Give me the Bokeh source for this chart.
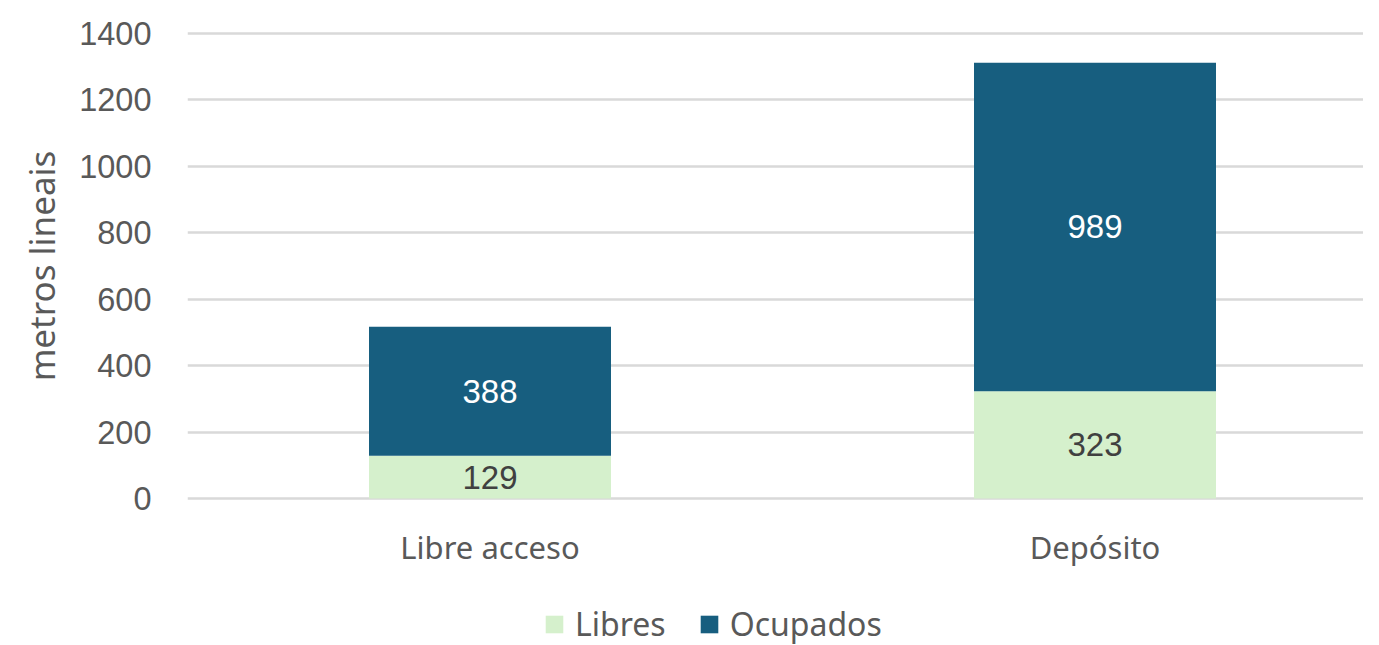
from bokeh.plotting import figure
from bokeh.models import ColumnDataSource, Range1d, FixedTicker, Legend, LegendItem, LabelSet
from bokeh.layouts import column
from bokeh.core.properties import value
from bokeh.embed import file_html
from bokeh.resources import INLINE

categories = ["Libre acceso", "Depósito"]
libres = [129, 323]
ocupados = [388, 989]
series = ["Libres", "Ocupados"]
colors = ["#D5F0CC", "#175E7F"]
y_ticks = [0, 200, 400, 600, 800, 1000, 1200, 1400]

xpos = [i + 0.5 for i in range(len(categories))]
src = ColumnDataSource(dict(
    x=xpos,
    Libres=libres,
    Ocupados=ocupados,
    lib_mid=[v / 2 for v in libres],
    ocu_mid=[a + b / 2 for a, b in zip(libres, ocupados)],
    lib_txt=[str(v) for v in libres],
    ocu_txt=[str(v) for v in ocupados],
))

p = figure(width=1363, height=600, output_backend="svg", toolbar_location=None,
           x_range=Range1d(0, 1176 / 605), y_range=Range1d(-30.1, 1430.1),
           min_border_left=187, min_border_right=0, min_border_top=23,
           min_border_bottom=92)
p.outline_line_color = None
p.background_fill_color = "white"

r = p.vbar_stack(series, x="x", width=0.4, source=src, color=colors, line_color=None)

lbl1 = LabelSet(x="x", y="lib_mid", text="lib_txt", source=src, text_align="center",
                text_baseline="middle", text_font=value("Liberation Sans"), text_font_size="33px",
                text_color="#404040")
lbl2 = LabelSet(x="x", y="ocu_mid", text="ocu_txt", source=src, text_align="center",
                text_baseline="middle", text_font=value("Liberation Sans"), text_font_size="33px",
                text_color="white")
p.add_layout(lbl1)
p.add_layout(lbl2)

p.xgrid.grid_line_color = None
p.ygrid.grid_line_color = "#D9D9D9"
p.ygrid.grid_line_width = 2.5
p.ygrid.ticker = FixedTicker(ticks=y_ticks)

p.yaxis.ticker = FixedTicker(ticks=y_ticks)
p.yaxis.axis_line_color = None
p.yaxis.major_tick_line_color = None
p.yaxis.minor_tick_line_color = None
p.yaxis.major_label_text_font = "Liberation Sans"
p.yaxis.major_label_text_font_size = "32.5px"
p.yaxis.major_label_text_color = "#595959"
p.yaxis.major_label_standoff = 30
p.yaxis.axis_label = "metros lineais"
p.yaxis.axis_label_text_font = "Noto Sans"
p.yaxis.axis_label_text_font_style = "normal"
p.yaxis.axis_label_text_font_size = "35px"
p.yaxis.axis_label_text_color = "#595959"
p.yaxis.axis_label_standoff = 11

p.xaxis.ticker = FixedTicker(ticks=xpos)
p.xaxis.major_label_overrides = {x: c for x, c in zip(xpos, categories)}
p.xaxis.axis_line_color = None
p.xaxis.major_tick_line_color = None
p.xaxis.minor_tick_line_color = None
p.xaxis.major_label_text_font = "Noto Sans"
p.xaxis.major_label_text_font_size = "31px"
p.xaxis.major_label_text_color = "#595959"
p.xaxis.major_label_standoff = 11

# legend strip below the chart (same stacked series, kept out of view)
pl = figure(width=1363, height=45, output_backend="svg", toolbar_location=None,
            x_range=Range1d(0, 1176 / 605), y_range=Range1d(5000, 6000),
            min_border_left=187, min_border_right=0, min_border_top=0, min_border_bottom=0)
pl.outline_line_color = None
pl.axis.visible = False
pl.grid.visible = False
proxies = pl.vbar_stack(series, x="x", width=0.4, source=src, color=colors, line_color=None)
legend = Legend(items=[LegendItem(label=s, renderers=[rr]) for s, rr in zip(series, proxies)],
                orientation="horizontal", location=(356, 0),
                label_text_font="Noto Sans", label_text_font_size="32px",
                label_text_color="#595959", glyph_width=22, glyph_height=22,
                spacing=32, label_standoff=10, border_line_color=None,
                background_fill_alpha=0, margin=0, padding=0)
pl.add_layout(legend, "center")

layout = column(p, pl, spacing=0)
open("out.html", "w").write(file_html(layout, INLINE))
